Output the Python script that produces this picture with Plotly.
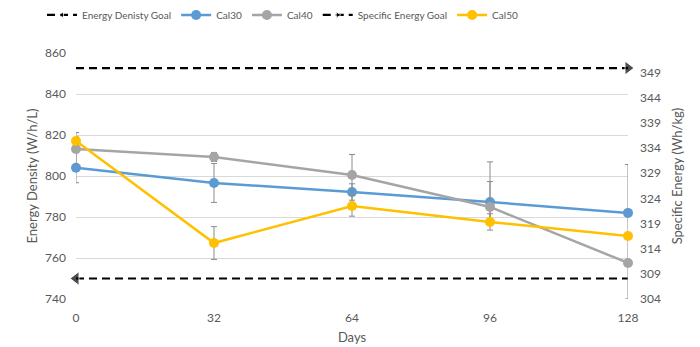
import plotly.graph_objects as go

days = [0, 32, 64, 96, 128]

cal30 = [804, 796.6, 792.2, 787.3, 782]
cal40 = [813.2, 809.3, 800.5, 784.9, 757.6]
cal50 = [817.1, 767.3, 785.4, 777.6, 770.7]

cal30_err = [7.3, 9.5, 4, 10, 0.8]
cal40_err_plus = [8, 2.2, 10, 22, 48]
cal40_err_minus = [8, 2.2, 10, 7, 17.6]
cal50_err = [2, 8, 5, 4, 1.5]

ed_goal_x = [0, 128]
ed_goal = [750, 750]
se_goal_x = [0, 128]
se_goal = [350, 350]

y_ticks = [740, 760, 780, 800, 820, 840, 860]
y2_ticks = [304, 309, 314, 319, 324, 329, 334, 339, 344, 349]

FONT = "Lato"
TXT = "#595959"
ERR = "#8C8C8C"

fig = go.Figure()

fig.add_trace(go.Scatter(
    x=ed_goal_x, y=ed_goal, name="Energy Denisty Goal", mode="lines+markers",
    line=dict(color="black", width=2.2, dash="8px,5px"),
    marker=dict(symbol="triangle-left", size=[12, 0], color="black"),
    cliponaxis=False,
))
fig.add_trace(go.Scatter(
    x=days, y=cal30, name="Cal30", mode="lines+markers",
    line=dict(color="#5B9BD5", width=2.5),
    marker=dict(symbol="circle", size=10, color="#5B9BD5"),
    error_y=dict(type="data", array=cal30_err, color=ERR, thickness=1, width=3),
    cliponaxis=False,
))
fig.add_trace(go.Scatter(
    x=days, y=cal40, name="Cal40", mode="lines+markers",
    line=dict(color="#A5A5A5", width=2.5),
    marker=dict(symbol="circle", size=10, color="#A5A5A5"),
    error_y=dict(type="data", array=cal40_err_plus, arrayminus=cal40_err_minus,
                 color=ERR, thickness=1, width=3),
    cliponaxis=False,
))
fig.add_trace(go.Scatter(
    x=se_goal_x, y=se_goal, name="Specific Energy Goal", mode="lines+markers",
    yaxis="y2",
    line=dict(color="black", width=2.2, dash="8px,5px"),
    marker=dict(symbol="triangle-right", size=[0, 12], color="black"),
    cliponaxis=False,
))
fig.add_trace(go.Scatter(
    x=days, y=cal50, name="Cal50", mode="lines+markers",
    line=dict(color="#FFC000", width=2.5),
    marker=dict(symbol="circle", size=10, color="#FFC000"),
    error_y=dict(type="data", array=cal50_err, color=ERR, thickness=1, width=3),
    cliponaxis=False,
))

fig.update_layout(
    width=700, height=347,
    margin=dict(l=76, r=72, t=53, b=48, autoexpand=False),
    paper_bgcolor="white", plot_bgcolor="white",
    font=dict(family=FONT, size=12, color=TXT),
    showlegend=True,
    legend=dict(orientation="h", xref="container", yref="container",
                x=0.06, y=0.957, xanchor="left", yanchor="middle",
                font=dict(size=10, color=TXT),
                itemwidth=30, tracegroupgap=0, bgcolor="rgba(0,0,0,0)"),
    xaxis=dict(range=[0, 128], tickvals=days, ticktext=[str(d) for d in days],
               showgrid=False, zeroline=False, showline=False, ticks="",
               ticklabelstandoff=10,
               tickfont=dict(size=12, color=TXT),
               title=dict(text="Days", font=dict(size=13, color=TXT), standoff=8)),
    yaxis=dict(range=[740, 860], tickvals=y_ticks, showgrid=True, gridcolor="#D9D9D9",
               gridwidth=1, zeroline=False, showline=False, ticks="",
               ticklabelstandoff=9,
               tickfont=dict(size=12, color=TXT),
               title=dict(text="Energy Density (W/h/L)", font=dict(size=13, color=TXT), standoff=4)),
    yaxis2=dict(range=[303.9, 353.0], tickvals=y2_ticks, overlaying="y", side="right",
                showgrid=False, zeroline=False, showline=False, ticks="",
                ticklabelstandoff=11,
                tickfont=dict(size=12, color=TXT),
                title=dict(text="Specific Energy (Wh/kg)", font=dict(size=13, color=TXT), standoff=12)),
)

fig.write_html("out.html")
